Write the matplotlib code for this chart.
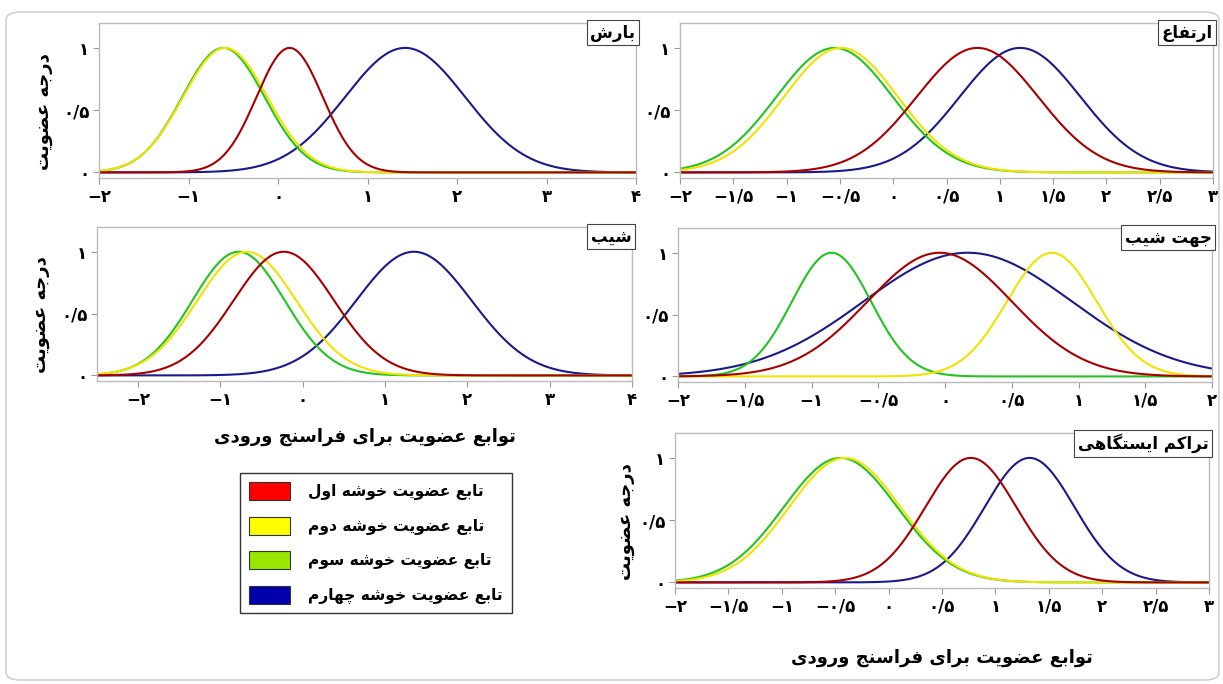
import numpy as np
import matplotlib
matplotlib.use('Agg')
import matplotlib.pyplot as plt
from matplotlib.patches import Patch, FancyBboxPatch

# membership functions (gaussian): centre, sigma for clusters 1..4
# cluster order: red (1st), yellow (2nd), green (3rd), blue (4th)
barsh_c = [0.13, -0.59, -0.61, 1.42]
barsh_s = [0.37, 0.47, 0.46, 0.67]

ertefa_c = [0.79, -0.49, -0.55, 1.19]
ertefa_s = [0.57, 0.535, 0.546, 0.567]

shib_c = [-0.23, -0.68, -0.78, 1.35]
shib_s = [0.61, 0.60, 0.56, 0.70]

jahat_c = [-0.04, 0.80, -0.85, 0.17]
jahat_s = [0.54, 0.336, 0.296, 0.78]

tarakom_c = [0.77, -0.41, -0.45, 1.32]
tarakom_s = [0.425, 0.52, 0.53, 0.42]

xt_barsh = [-2, -1, 0, 1, 2, 3, 4]
xt_ertefa = [-2, -1.5, -1, -0.5, 0, 0.5, 1, 1.5, 2, 2.5, 3]
xt_shib = [-2, -1, 0, 1, 2, 3, 4]
xt_jahat = [-2, -1.5, -1, -0.5, 0, 0.5, 1, 1.5, 2]
xt_tarakom = [-2, -1.5, -1, -0.5, 0, 0.5, 1, 1.5, 2, 2.5, 3]
yt = [0, 0.5, 1]

titles = ['بارش', 'ارتفاع', 'شیب', 'جهت شیب', 'تراکم ایستگاهی']
ylab = 'درجه عضویت'
xlab = 'توابع عضویت برای فراسنج ورودی'
leg_labels = ['تابع عضویت خوشه اول', 'تابع عضویت خوشه دوم',
              'تابع عضویت خوشه سوم', 'تابع عضویت خوشه چهارم']

line_cols = ['#a80000', '#f2e200', '#22c422', '#1a1a8a']
leg_cols = ['#ff0000', '#ffff00', '#99e600', '#0000aa']

# --- tiny arabic/persian shaper (no bidi lib available) ---
# base char -> first code point of its presentation forms, dual joining?
FORMS = {
    'ا': (0xFE8D, False), 'ب': (0xFE8F, True), 'ت': (0xFE95, True),
    'ج': (0xFE9D, True), 'چ': (0xFB7A, True), 'خ': (0xFEA5, True),
    'د': (0xFEA9, False), 'ر': (0xFEAD, False), 'س': (0xFEB1, True),
    'ش': (0xFEB5, True), 'ض': (0xFEBD, True), 'ع': (0xFEC9, True),
    'ف': (0xFED1, True), 'ک': (0xFB8E, True), 'گ': (0xFB92, True),
    'ل': (0xFEDD, True), 'م': (0xFEE1, True), 'ن': (0xFEE5, True),
    'ه': (0xFEE9, True), 'و': (0xFEED, False), 'ی': (0xFBFC, True),
}


def fa(text):
    out = []
    for i, ch in enumerate(text):
        if ch not in FORMS:
            out.append(ch)
            continue
        base, dual = FORMS[ch]
        prev = text[i-1] if i > 0 else ''
        nxt = text[i+1] if i < len(text)-1 else ''
        jp = prev in FORMS and FORMS[prev][1]
        jn = dual and nxt in FORMS
        if jp and jn:
            k = 3
        elif jp:
            k = 1
        elif jn:
            k = 2
        else:
            k = 0
        out.append(chr(base + k))
    return ''.join(reversed(out))


DIG = str.maketrans('0123456789', '۰۱۲۳۴۵۶۷۸۹')


def fnum(v):
    s = ('%g' % abs(v)).replace('.', '/').translate(DIG)
    return ('−' + s) if v < 0 else s


plt.rcParams['font.family'] = ['DejaVu Sans']
plt.rcParams['font.weight'] = 'bold'

fig = plt.figure(figsize=(12.23, 6.84), dpi=100)
W, H = 1223.0, 684.0

# rounded outer frame
fig.patches.append(FancyBboxPatch((6/W, 4/H), 1213/W, 668/H,
                                  boxstyle='round,pad=0,rounding_size=0.012',
                                  transform=fig.transFigure, fc='none',
                                  ec='#cfcfcf', lw=1.2, zorder=-5))


def box(l, t, r, b):
    return [l/W, 1-b/H, (r-l)/W, (b-t)/H]


# position, xlim, xticks, centres, sigmas, title idx, ylabel x, xlabel pad
panels = [
    (box(99, 23, 636, 178), (-2, 4), xt_barsh, barsh_c, barsh_s, 0, -0.086, None),
    (box(680, 23, 1213, 178), (-2, 3), xt_ertefa, ertefa_c, ertefa_s, 1, None, None),
    (box(97, 227, 632, 381), (-2.5, 4), xt_shib, shib_c, shib_s, 2, -0.088, 14),
    (box(678, 228, 1212, 382), (-2, 2), xt_jahat, jahat_c, jahat_s, 3, None, None),
    (box(675, 433, 1209, 588), (-2, 3), xt_tarakom, tarakom_c, tarakom_s, 4, -0.075, 24),
]

for pos, xl, xt, cs, ss, ti, ylx, xpad in panels:
    ax = fig.add_axes(pos)
    x = np.linspace(xl[0], xl[1], 600)
    for k in [3, 2, 1, 0]:
        ax.plot(x, np.exp(-(x-cs[k])**2/(2*ss[k]**2)), color=line_cols[k], lw=1.5)
    ax.set_xlim(xl)
    ax.set_ylim(-0.045, 1.2)
    ax.set_xticks(xt)
    ax.set_xticklabels([fnum(v) for v in xt], fontsize=12, fontweight='bold')
    ax.set_yticks(yt)
    ax.set_yticklabels([fnum(v) for v in yt], fontsize=12, fontweight='bold')
    ax.tick_params(length=4, width=0.8, color='#999999', pad=3)
    for sp in ax.spines.values():
        sp.set_color('#bbbbbb')
        sp.set_linewidth(1.0)
    ax.text(0.999, 0.995, fa(titles[ti]), transform=ax.transAxes, ha='right', va='top',
            fontsize=12, fontweight='bold',
            bbox=dict(boxstyle='square,pad=0.2', fc='white', ec='#444444', lw=0.8))
    if ylx is not None:
        ax.set_ylabel(fa(ylab), fontsize=13, fontweight='bold')
        ax.yaxis.set_label_coords(ylx, 0.43)
    if xpad is not None:
        ax.set_xlabel(fa(xlab), fontsize=13, fontweight='bold', labelpad=xpad)

handles = [Patch(fc=c, ec='#333333', lw=0.8) for c in leg_cols]
fig.legend(handles, [fa(t) for t in leg_labels], loc='upper left',
           bbox_to_anchor=(240/W, 1-473/H), borderaxespad=0,
           prop=dict(size=11.2, weight='bold'), frameon=True, fancybox=False,
           edgecolor='black', handlelength=2.6, handleheight=1.4,
           labelspacing=1.05, handletextpad=1.2, borderpad=0.6)

plt.savefig('out.png', dpi=100)
plt.close()
